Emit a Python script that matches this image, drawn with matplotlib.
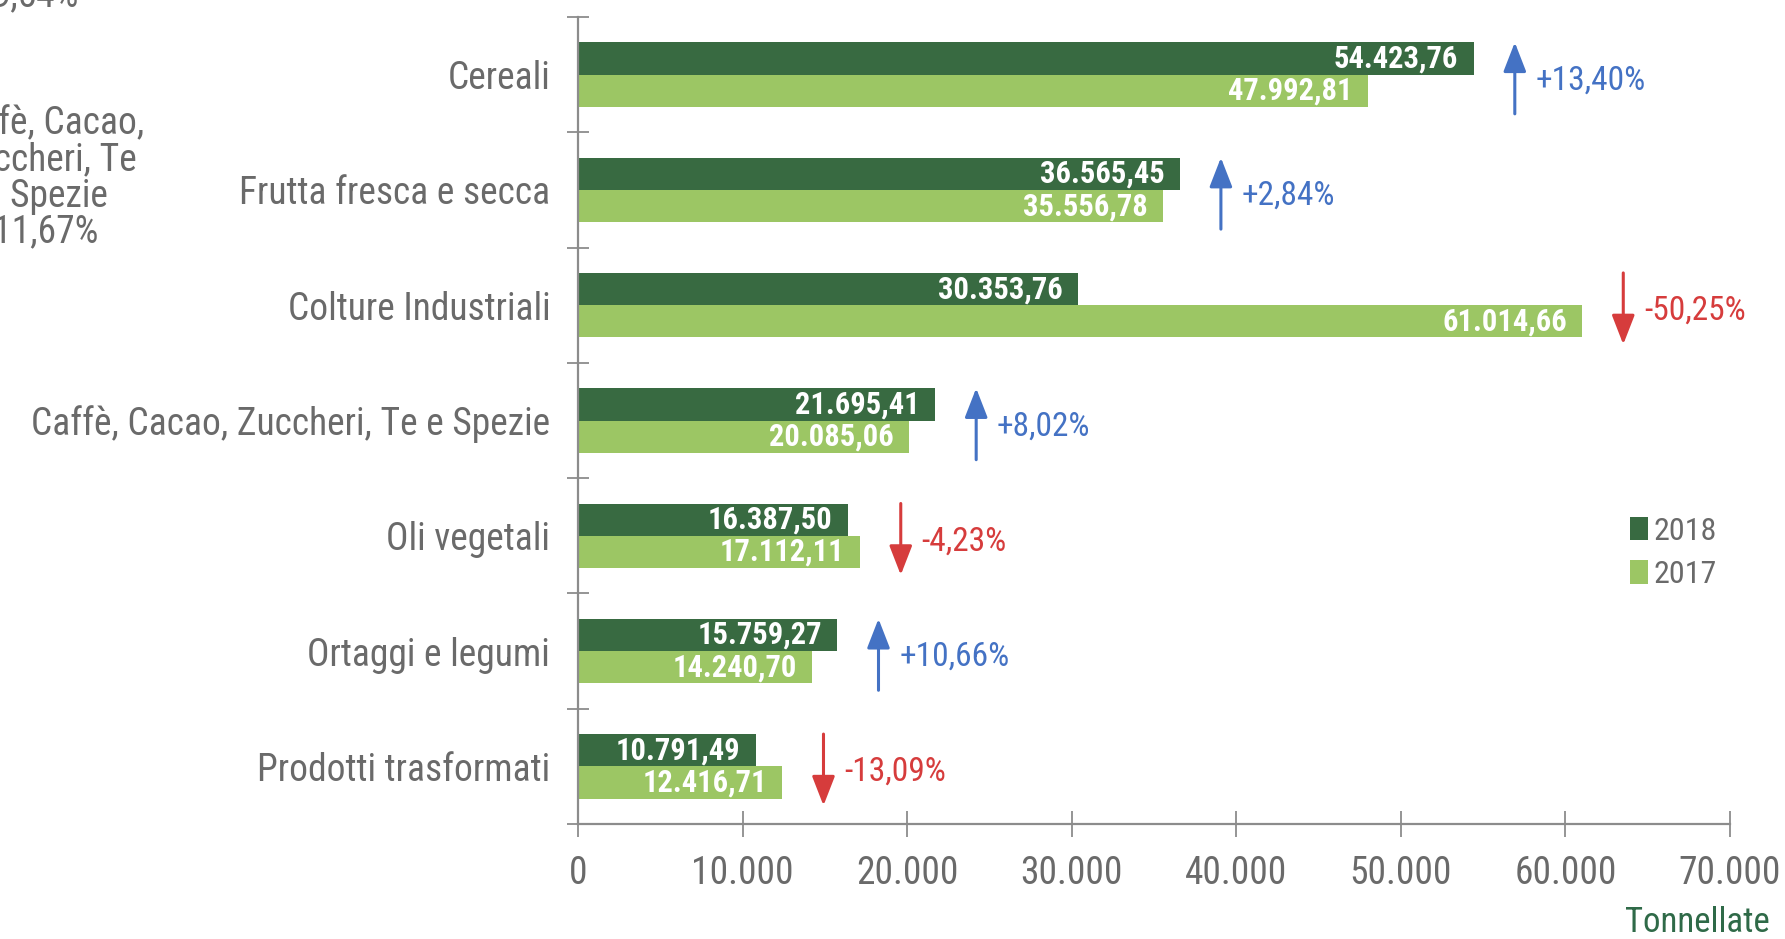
import matplotlib
matplotlib.use("Agg")
import matplotlib.pyplot as plt
from matplotlib import font_manager
from matplotlib.patches import Patch

# ---------------- data ----------------
categories = ["Cereali", "Frutta fresca e secca", "Colture Industriali",
              "Caffè, Cacao, Zuccheri, Te e Spezie", "Oli vegetali",
              "Ortaggi e legumi", "Prodotti trasformati"]
values_2018 = [54423.76, 36565.45, 30353.76, 21695.41, 16387.50, 15759.27, 10791.49]
values_2017 = [47992.81, 35556.78, 61014.66, 20085.06, 17112.11, 14240.70, 12416.71]
changes = ["+13,40%", "+2,84%", "-50,25%", "+8,02%", "-4,23%", "+10,66%", "-13,09%"]
direction_up = [True, True, False, True, False, True, False]
xticks = [0, 10000, 20000, 30000, 40000, 50000, 60000, 70000]
xtick_labels = ["0", "10.000", "20.000", "30.000", "40.000", "50.000", "60.000", "70.000"]
series_labels = ["2018", "2017"]

# ---------------- fonts ----------------
def pick_font(names):
    for n in names:
        try:
            font_manager.findfont(font_manager.FontProperties(family=n), fallback_to_default=False)
            return n
        except Exception:
            continue
    return "DejaVu Sans"

narrow = pick_font(["Liberation Sans Narrow", "Arial Narrow", "Roboto Condensed"])
if narrow == "DejaVu Sans":
    FONT = pick_font(["Liberation Sans", "Arial"])
    k = 0.82
else:
    FONT = narrow
    k = 1.0
plt.rcParams["font.family"] = [FONT, "DejaVu Sans"]

C_DARK = "#386a41"
C_LIGHT = "#9cc664"
C_BLUE = "#4472c4"
C_RED = "#d63c3c"
C_TEXT = "#6a6a6a"
C_AXIS = "#8c8c8c"

def fmt_it(v):
    s = f"{v:,.2f}"
    return s.replace(",", "X").replace(".", ",").replace("X", ".")

# ---------------- figure ----------------
fig = plt.figure(figsize=(17.85, 9.39), dpi=100)
ax = fig.add_axes([578 / 1785, 1 - 824 / 939, (1730 - 578) / 1785, (824 - 17) / 939])

n = len(categories)
ypos = list(range(n))
bh = 0.28
y18 = [y - bh / 2 for y in ypos]
y17 = [y + bh / 2 for y in ypos]
ax.barh(y18, values_2018, height=bh, color=C_DARK, edgecolor="none", zorder=2)
ax.barh(y17, values_2017, height=bh, color=C_LIGHT, edgecolor="none", zorder=2)

for y, v in zip(y18, values_2018):
    ax.annotate(fmt_it(v), xy=(v, y), xytext=(-11, 0), textcoords="offset points",
                ha="right", va="center", color="white", fontweight="bold",
                fontsize=22 * k, zorder=3)
for y, v in zip(y17, values_2017):
    ax.annotate(fmt_it(v), xy=(v, y), xytext=(-11, 0), textcoords="offset points",
                ha="right", va="center", color="white", fontweight="bold",
                fontsize=22 * k, zorder=3)

arrow_offset = 2500
alen = 0.62
for y, a, b, ch, up in zip(ypos, values_2018, values_2017, changes, direction_up):
    xa = max(a, b) + arrow_offset
    yc = y + 0.03
    col = C_BLUE if up else C_RED
    if up:
        start, end = yc + alen / 2, yc - alen / 2
    else:
        start, end = yc - alen / 2, yc + alen / 2
    ax.annotate("", xy=(xa, end), xytext=(xa, start),
                arrowprops=dict(arrowstyle="-|>,head_length=0.9,head_width=0.35",
                                color=col, lw=2.2, shrinkA=0, shrinkB=0,
                                mutation_scale=20), zorder=3)
    ax.annotate(ch, xy=(xa, yc + 0.02), xytext=(15, 0), textcoords="offset points",
                ha="left", va="center", color=col, fontsize=24 * k)

ax.set_xlim(0, 70000)
ax.set_ylim(n - 0.5, -0.5)

ax.set_xticks(xticks)
ax.set_xticklabels(xtick_labels, fontsize=27 * k, color=C_TEXT)
ax.set_yticks([y - 0.5 for y in ypos] + [n - 0.5])
ax.set_yticklabels([])
ax.set_yticks(ypos, minor=True)
ax.set_yticklabels(categories, minor=True, fontsize=27 * k, color=C_TEXT)

ax.tick_params(axis="x", which="major", direction="inout", length=19, width=1.3,
               color=C_AXIS, pad=13)
ax.tick_params(axis="y", which="major", direction="inout", length=16, width=1.3,
               color=C_AXIS)
ax.tick_params(axis="y", which="minor", length=0, pad=20)

for s in ["top", "right"]:
    ax.spines[s].set_visible(False)
for s in ["left", "bottom"]:
    ax.spines[s].set_color(C_AXIS)
    ax.spines[s].set_linewidth(1.6)

# legend
handles = [Patch(facecolor=C_DARK, edgecolor="none"), Patch(facecolor=C_LIGHT, edgecolor="none")]
fig.legend(handles, series_labels, loc="center left", bbox_to_anchor=(1630 / 1785, 1 - 553 / 939),
           frameon=False, fontsize=23 * k, labelcolor=C_TEXT, handlelength=0.55,
           handleheight=0.75, handletextpad=0.2, labelspacing=0.45, borderpad=0,
           borderaxespad=0)

fig.text(1770 / 1785, 1 - 922 / 939, "Tonnellate", ha="right", va="center",
         fontsize=25 * k, color="#2f6a48")

# leftover pie labels cut at the edge (as in the reference crop)
fig.text(46 / 1785, 1 - 178 / 939, "Caffè, Cacao,\nZuccheri, Te\ne Spezie\n11,67%",
         ha="center", va="center", fontsize=27 * k, color=C_TEXT, linespacing=0.97)
fig.text(35 / 1785, 1 - 6 / 939, "9,54%", ha="center", va="baseline",
         fontsize=27 * k, color=C_TEXT)

fig.savefig("out.png", dpi=100)
